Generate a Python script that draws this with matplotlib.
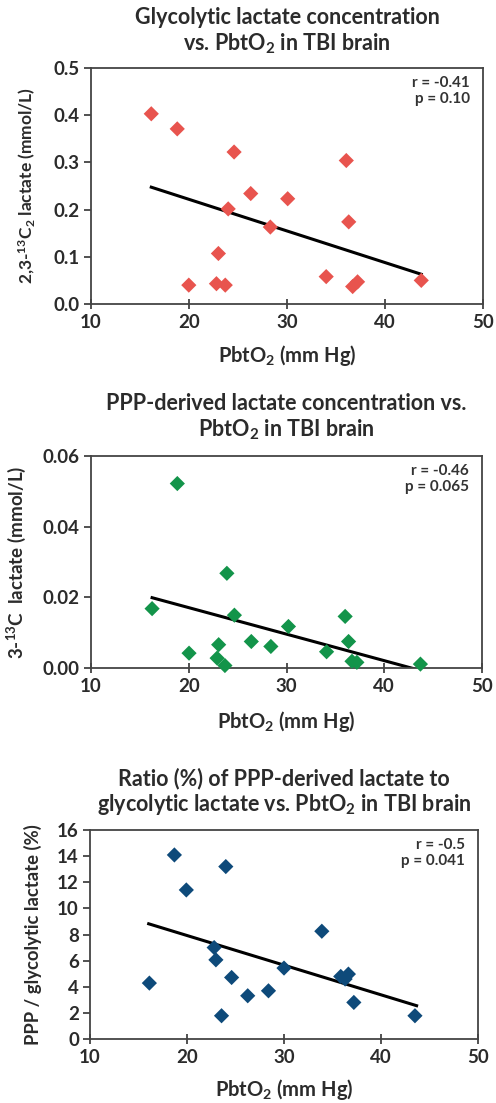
import numpy as np
import matplotlib.pyplot as plt

# PbtO2 values (mm Hg), one list per panel
pbto2_glyc = [16.15, 18.8, 24.6, 36.05, 26.3, 30.07, 24.0, 28.3, 36.3, 23.0,
              19.98, 22.8, 23.7, 34.0, 36.7, 37.2, 43.7]
glyc_lactate = [0.403, 0.371, 0.322, 0.304, 0.234, 0.223, 0.2015, 0.163, 0.174, 0.107,
                0.040, 0.043, 0.040, 0.058, 0.037, 0.047, 0.050]

pbto2_ppp = [18.83, 23.9, 16.25, 24.67, 36.0, 30.2, 26.4, 36.35, 28.4, 23.06,
             20.03, 34.1, 22.9, 23.7, 36.7, 37.2, 43.7]
ppp_lactate = [0.0522, 0.0268, 0.0168, 0.01495, 0.0146, 0.01175, 0.0075, 0.0075, 0.0061, 0.0066,
               0.0042, 0.0046, 0.0028, 0.0007, 0.0019, 0.0016, 0.0011]

pbto2_ratio = [18.7, 24.0, 19.93, 33.9, 22.8, 22.98, 30.0, 35.85, 36.64, 36.3,
               24.6, 16.12, 28.4, 26.26, 37.2, 23.56, 43.5]
ratio_pct = [14.09, 13.2, 11.41, 8.25, 7.0, 6.06, 5.43, 4.79, 4.97, 4.59,
             4.71, 4.28, 3.69, 3.31, 2.80, 1.78, 1.78]

# trend lines (end points)
trend_glyc = ([16.15, 43.7], [0.2475, 0.063])
trend_ppp = ([16.25, 43.7], [0.0199, -0.0007])
trend_ratio = ([16.05, 43.67], [8.82, 2.55])

stats = ['r = -0.41\np = 0.10', 'r = -0.46\np = 0.065', 'r = -0.5\np = 0.041']
xticks = [10, 20, 30, 40, 50]

plt.rcParams['font.family'] = ['Lato', 'DejaVu Sans']
plt.rcParams['font.weight'] = 'bold'
plt.rcParams['axes.labelweight'] = 'bold'
plt.rcParams['mathtext.fontset'] = 'custom'
plt.rcParams['mathtext.rm'] = 'Lato:bold'
plt.rcParams['mathtext.it'] = 'Lato:bold'
plt.rcParams['mathtext.bf'] = 'Lato:bold'
plt.rcParams['mathtext.default'] = 'rm'

TXT = '#2b2b2b'
W, H = 496, 1103
fig = plt.figure(figsize=(W / 100, H / 100), dpi=100)

def px_axes(l, t, r, b):
    return fig.add_axes([l / W, 1 - b / H, (r - l) / W, (b - t) / H])

# ylab_x is the right edge of the rotated label, in pixels
panels = [
    dict(box=(91, 68, 483, 304), x=pbto2_glyc, y=glyc_lactate, trend=trend_glyc,
         color='#E8544E', ylim=(0, 0.5), yticks=np.arange(0, 0.51, 0.1), yfmt='%.1f',
         ylabel='2,3-$^{13}$C$_2$ lactate (mmol/L)', ylab_x=38, ylab_fs=12.5,
         title='Glycolytic lactate concentration\nvs. PbtO$_2$ in TBI brain', title_y=(18, 45),
         xlabel_y=356),
    dict(box=(91, 456, 482, 668), x=pbto2_ppp, y=ppp_lactate, trend=trend_ppp,
         color='#13944A', ylim=(0, 0.06), yticks=np.arange(0, 0.061, 0.02), yfmt='%.2f',
         ylabel='3-$^{13}$C  lactate (mmol/L)', ylab_x=28, ylab_fs=13.5,
         title='PPP-derived lactate concentration vs.\nPbtO$_2$ in TBI brain', title_y=(405, 430),
         xlabel_y=722),
    dict(box=(90, 830, 478, 1039), x=pbto2_ratio, y=ratio_pct, trend=trend_ratio,
         color='#0E4A7A', ylim=(0, 16), yticks=np.arange(0, 17, 2), yfmt='%d',
         ylabel='PPP / glycolytic lactate (%)', ylab_x=42, ylab_fs=13.3,
         title='Ratio (%) of PPP-derived lactate to\nglycolytic lactate vs. PbtO$_2$ in TBI brain',
         title_y=(780, 805), xlabel_y=1090),
]

for p, txt in zip(panels, stats):
    l, t, r, b = p['box']
    ax = px_axes(l, t, r, b)
    ax.scatter(p['x'], p['y'], marker='D', s=60, color=p['color'], edgecolors='none',
               zorder=3, clip_on=False)
    ax.plot(p['trend'][0], p['trend'][1], color='black', lw=2.2, zorder=2)
    ax.set_xlim(10, 50)
    ax.set_ylim(*p['ylim'])
    ax.set_xticks(xticks)
    ax.set_xticklabels([str(v) for v in xticks], fontweight='bold')
    ax.set_yticks(p['yticks'])
    ax.set_yticklabels([p['yfmt'] % v for v in p['yticks']], fontweight='bold')
    ax.tick_params(axis='both', length=5, width=1.2, labelsize=13.5,
                   colors='#333333', labelcolor=TXT)
    ax.tick_params(axis='x', direction='inout', length=7, pad=4)
    ax.tick_params(axis='y', direction='out', pad=3)
    for s in ax.spines.values():
        s.set_color('#444444')
        s.set_linewidth(1.3)
    ax.set_ylabel(p['ylabel'], fontsize=p['ylab_fs'], color=TXT)
    ax.yaxis.set_label_coords((p['ylab_x'] - l) / (r - l), 0.5)
    ax.text(1 - 13 / (r - l), 1 - 8 / (b - t), txt, transform=ax.transAxes, ha='right', va='top',
            fontsize=11, color='#333333', linespacing=1.2)
    fig.text((l + r) / 2 / W, 1 - (sum(p['title_y']) / 2) / H, p['title'],
             ha='center', va='center', fontsize=15.5, color=TXT, linespacing=1.15)
    fig.text((l + r) / 2 / W, 1 - p['xlabel_y'] / H, 'PbtO$_2$ (mm Hg)',
             ha='center', va='center', fontsize=14.5, color=TXT)

fig.savefig('out.png', dpi=100)
